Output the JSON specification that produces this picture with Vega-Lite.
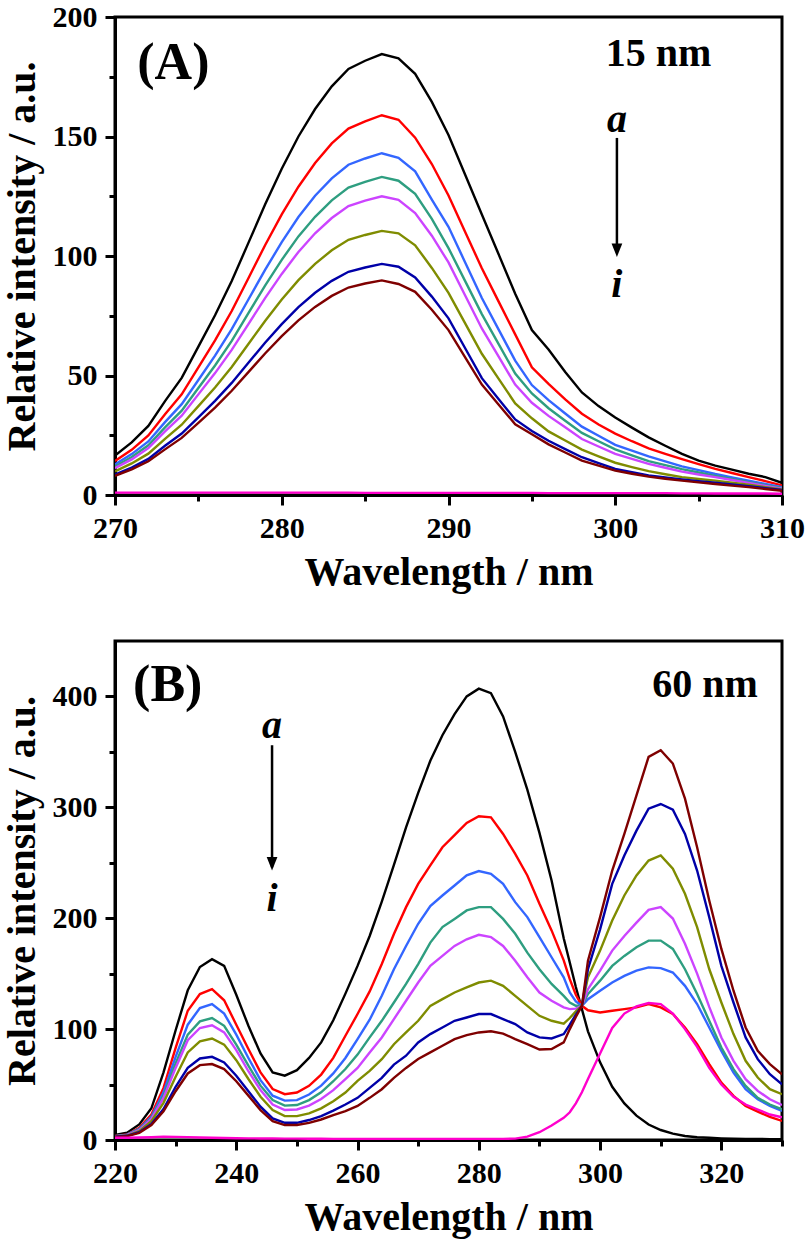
{
  "$schema": "https://vega.github.io/schema/vega-lite/v6.json",
  "background": "white",
  "padding": {"left": 0, "top": 0, "right": 0, "bottom": 0},
  "config": {
    "view": {"stroke": "black", "strokeWidth": 3},
    "axis": {
      "grid": false,
      "domainColor": "black", "domainWidth": 3,
      "tickColor": "black", "tickWidth": 3,
      "labelFont": "Liberation Serif", "labelFontWeight": "bold", "labelFontSize": 30, "labelColor": "black",
      "titleFont": "Liberation Serif", "titleFontWeight": "bold", "titleFontSize": 40, "titleColor": "black",
      "labelOverlap": false, "labelFlush": false
    }
  },
  "datasets": {
    "A": [
      {"nm":270,"a":16.5,"b":14.2,"c":12.8,"d":11.9,"e":11.2,"f":9.9,"g":8.6,"h":8.0,"i":1.0},
      {"nm":271,"a":22.0,"b":18.9,"c":17.1,"d":15.9,"e":14.9,"f":13.2,"g":11.5,"h":10.7,"i":1.0},
      {"nm":272,"a":28.9,"b":24.9,"c":22.4,"d":20.8,"e":19.6,"f":17.3,"g":15.1,"h":14.1,"i":1.0},
      {"nm":273,"a":39.3,"b":33.8,"c":30.5,"d":28.3,"e":26.6,"f":23.5,"g":20.6,"h":19.1,"i":1.0},
      {"nm":274,"a":49.0,"b":42.1,"c":38.0,"d":35.3,"e":33.2,"f":29.4,"g":25.7,"h":23.9,"i":1.0},
      {"nm":275,"a":62.1,"b":53.4,"c":48.1,"d":44.8,"e":42.1,"f":37.2,"g":32.5,"h":30.2,"i":1.0},
      {"nm":276,"a":75.2,"b":64.7,"c":58.3,"d":54.2,"e":51.0,"f":45.0,"g":39.4,"h":36.6,"i":1.0},
      {"nm":277,"a":89.5,"b":77.0,"c":69.4,"d":64.5,"e":60.7,"f":53.6,"g":46.9,"h":43.6,"i":1.0},
      {"nm":278,"a":105.5,"b":90.7,"c":81.8,"d":76.1,"e":71.5,"f":63.2,"g":55.3,"h":51.4,"i":1.0},
      {"nm":279,"a":121.5,"b":104.5,"c":94.2,"d":87.6,"e":82.4,"f":72.8,"g":63.7,"h":59.2,"i":1.0},
      {"nm":280,"a":136.5,"b":117.4,"c":105.8,"d":98.4,"e":92.5,"f":81.8,"g":71.5,"h":66.5,"i":1.0},
      {"nm":281,"a":150.0,"b":129.0,"c":116.3,"d":108.2,"e":101.7,"f":89.9,"g":78.6,"h":73.1,"i":1.0},
      {"nm":282,"a":161.5,"b":138.9,"c":125.2,"d":116.4,"e":109.5,"f":96.7,"g":84.6,"h":78.7,"i":1.0},
      {"nm":283,"a":171.0,"b":147.1,"c":132.5,"d":123.3,"e":115.9,"f":102.4,"g":89.6,"h":83.3,"i":1.0},
      {"nm":284,"a":178.3,"b":153.3,"c":138.2,"d":128.6,"e":120.9,"f":106.8,"g":93.4,"h":86.8,"i":1.0},
      {"nm":285,"a":181.7,"b":156.3,"c":140.8,"d":131.0,"e":123.2,"f":108.8,"g":95.2,"h":88.5,"i":0.9},
      {"nm":286,"a":184.5,"b":158.9,"c":143.0,"d":133.1,"e":125.0,"f":110.5,"g":96.7,"h":89.8,"i":0.9},
      {"nm":287,"a":182.7,"b":157.0,"c":141.1,"d":131.5,"e":123.5,"f":109.5,"g":95.5,"h":88.3,"i":0.9},
      {"nm":288,"a":176.2,"b":149.5,"c":135.4,"d":126.0,"e":118.0,"f":104.5,"g":91.0,"h":85.0,"i":0.9},
      {"nm":289,"a":164.5,"b":138.5,"c":123.6,"d":115.5,"e":108.5,"f":95.0,"g":83.0,"h":77.5,"i":0.9},
      {"nm":290,"a":150.6,"b":125.3,"c":112.2,"d":103.3,"e":97.3,"f":84.6,"g":73.9,"h":69.0,"i":0.9},
      {"nm":291,"a":134.0,"b":110.0,"c":97.3,"d":89.5,"e":83.5,"f":71.8,"g":61.4,"h":57.6,"i":0.9},
      {"nm":292,"a":117.4,"b":94.9,"c":82.4,"d":75.7,"e":69.7,"f":59.1,"g":48.9,"h":46.2,"i":0.9},
      {"nm":293,"a":100.8,"b":81.0,"c":69.3,"d":63.2,"e":58.0,"f":48.7,"g":40.2,"h":37.9,"i":0.9},
      {"nm":294,"a":84.2,"b":67.2,"c":56.2,"d":50.8,"e":46.2,"f":38.3,"g":31.6,"h":29.6,"i":0.9},
      {"nm":295,"a":69.0,"b":53.4,"c":46.0,"d":42.5,"e":38.6,"f":32.1,"g":26.8,"h":25.4,"i":0.9},
      {"nm":296,"a":60.9,"b":46.5,"c":39.7,"d":36.3,"e":33.1,"f":26.6,"g":22.7,"h":21.2,"i":0.8},
      {"nm":297,"a":51.5,"b":40.0,"c":34.1,"d":31.1,"e":28.3,"f":22.8,"g":19.2,"h":17.8,"i":0.8},
      {"nm":298,"a":42.9,"b":34.0,"c":28.6,"d":26.0,"e":23.4,"f":19.0,"g":15.8,"h":14.4,"i":0.8},
      {"nm":299,"a":37.2,"b":29.5,"c":24.8,"d":22.5,"e":20.3,"f":16.2,"g":13.3,"h":12.3,"i":0.8},
      {"nm":300,"a":32.4,"b":25.7,"c":21.0,"d":19.1,"e":17.2,"f":13.5,"g":10.9,"h":10.2,"i":0.8},
      {"nm":301,"a":28.2,"b":22.5,"c":18.6,"d":16.6,"e":15.1,"f":11.7,"g":9.5,"h":8.9,"i":0.8},
      {"nm":302,"a":24.1,"b":19.5,"c":16.2,"d":14.2,"e":13.0,"f":10.0,"g":8.2,"h":7.7,"i":0.8},
      {"nm":303,"a":20.6,"b":17.2,"c":14.1,"d":12.5,"e":11.4,"f":8.7,"g":7.3,"h":6.8,"i":0.8},
      {"nm":304,"a":17.2,"b":15.0,"c":12.0,"d":10.8,"e":9.8,"f":7.5,"g":6.5,"h":6.0,"i":0.7},
      {"nm":305,"a":14.4,"b":12.9,"c":10.4,"d":9.4,"e":8.6,"f":6.7,"g":5.8,"h":5.3,"i":0.7},
      {"nm":306,"a":12.3,"b":10.9,"c":8.8,"d":8.0,"e":7.5,"f":6.0,"g":5.1,"h":4.6,"i":0.6},
      {"nm":307,"a":10.6,"b":9.2,"c":7.4,"d":6.7,"e":6.3,"f":5.1,"g":4.4,"h":3.9,"i":0.6},
      {"nm":308,"a":8.9,"b":7.5,"c":6.0,"d":5.4,"e":5.1,"f":4.3,"g":3.7,"h":3.3,"i":0.6},
      {"nm":309,"a":7.5,"b":5.8,"c":4.6,"d":4.1,"e":3.8,"f":3.3,"g":2.9,"h":2.5,"i":0.6},
      {"nm":310,"a":5.1,"b":4.0,"c":3.3,"d":2.9,"e":2.6,"f":2.3,"g":2.1,"h":1.8,"i":0.5}
    ],
    "B": [
      {"nm":220,"a":4.5,"b":3.6,"c":3.5,"d":3.4,"e":3.3,"f":3.0,"g":3.0,"h":2.8,"i":2.0},
      {"nm":222,"a":6.6,"b":5.0,"c":4.8,"d":4.6,"e":4.4,"f":4.0,"g":3.8,"h":3.5,"i":2.0},
      {"nm":224,"a":14,"b":11,"c":10,"d":9.5,"e":9,"f":8,"g":7,"h":6.5,"i":2.2},
      {"nm":226,"a":28.6,"b":23,"c":21,"d":20,"e":19,"f":17,"g":14.5,"h":13.5,"i":2.5},
      {"nm":228,"a":61,"b":47,"c":43,"d":40,"e":38,"f":33.5,"g":28,"h":26,"i":3.0},
      {"nm":230,"a":99,"b":83,"c":75,"d":69,"e":65,"f":57,"g":48,"h":44,"i":2.8},
      {"nm":232,"a":135,"b":116.6,"c":104,"d":95,"e":90,"f":79,"g":65,"h":60,"i":2.6},
      {"nm":234,"a":156,"b":131.6,"c":119,"d":107,"e":101,"f":89,"g":73.5,"h":67.5,"i":2.3},
      {"nm":236,"a":163,"b":136,"c":122.6,"d":110,"e":103.5,"f":91.5,"g":75,"h":68.5,"i":2.0},
      {"nm":238,"a":157,"b":126,"c":114,"d":103,"e":97,"f":86,"g":70,"h":64,"i":1.8},
      {"nm":240,"a":131,"b":104,"c":95,"d":86,"e":81,"f":72,"g":58,"h":53,"i":1.6},
      {"nm":242,"a":103,"b":82,"c":74,"d":67,"e":62,"f":55,"g":44,"h":40,"i":1.5},
      {"nm":244,"a":78,"b":61,"c":54,"d":49,"e":45,"f":39,"g":30,"h":27,"i":1.4},
      {"nm":246,"a":61,"b":46,"c":40,"d":36,"e":32,"f":27,"g":19.5,"h":17,"i":1.3},
      {"nm":248,"a":58,"b":41.3,"c":35.5,"d":31,"e":27,"f":21.5,"g":15.5,"h":13.5,"i":1.2},
      {"nm":250,"a":63,"b":42.8,"c":36,"d":31.5,"e":27.5,"f":21.5,"g":15.5,"h":13.5,"i":1.2},
      {"nm":252,"a":74,"b":48.8,"c":41,"d":36,"e":31,"f":24,"g":18,"h":15.5,"i":1.1},
      {"nm":254,"a":88,"b":59,"c":49,"d":43,"e":37,"f":28.5,"g":21.5,"h":18.5,"i":1.1},
      {"nm":256,"a":108,"b":74,"c":60,"d":53,"e":45,"f":35,"g":26.5,"h":22.5,"i":1.0},
      {"nm":258,"a":132,"b":94,"c":74,"d":64,"e":55,"f":42.8,"g":32,"h":26,"i":1.0},
      {"nm":260,"a":157,"b":113.6,"c":91,"d":77,"e":65,"f":53.3,"g":38,"h":30.7,"i":1.0},
      {"nm":262,"a":184,"b":134,"c":108.5,"d":92.5,"e":79,"f":62.3,"g":47,"h":38,"i":1.0},
      {"nm":264,"a":215,"b":158.7,"c":130,"d":107.5,"e":92.5,"f":72.9,"g":56,"h":45.8,"i":1.0},
      {"nm":266,"a":248,"b":185.8,"c":154,"d":124,"e":109,"f":86.4,"g":68,"h":56,"i":1.0},
      {"nm":268,"a":282,"b":210,"c":175,"d":140.7,"e":125.6,"f":97,"g":76,"h":65,"i":1.0},
      {"nm":270,"a":313,"b":231,"c":195,"d":158.7,"e":142,"f":107.5,"g":88,"h":73,"i":1.0},
      {"nm":272,"a":342,"b":247.6,"c":211,"d":178,"e":157,"f":121,"g":95.5,"h":79,"i":1.0},
      {"nm":274,"a":365,"b":264,"c":220.5,"d":192,"e":166,"f":127,"g":101.5,"h":85,"i":1.0},
      {"nm":276,"a":384,"b":275,"c":229.5,"d":199.4,"e":175,"f":133,"g":107.5,"h":91,"i":1.0},
      {"nm":278,"a":400,"b":286,"c":238.6,"d":207,"e":181,"f":137.7,"g":110.5,"h":94.6,"i":1.0},
      {"nm":280,"a":407,"b":292,"c":242.5,"d":210,"e":185,"f":142,"g":113.6,"h":97,"i":1.0},
      {"nm":282,"a":403,"b":291,"c":240,"d":210,"e":183,"f":143.7,"g":113.6,"h":98,"i":1.0},
      {"nm":284,"a":382,"b":276,"c":231,"d":199.4,"e":175,"f":139,"g":109,"h":96,"i":1.0},
      {"nm":286,"a":350,"b":258,"c":214.5,"d":186,"e":161.7,"f":130,"g":104.5,"h":91,"i":1.2},
      {"nm":288,"a":316,"b":238.6,"c":201,"d":169,"e":146.7,"f":121,"g":97,"h":86.4,"i":3.0},
      {"nm":290,"a":277,"b":213,"c":183,"d":154,"e":133,"f":112,"g":92.5,"h":81.6,"i":7.0},
      {"nm":292,"a":234,"b":189,"c":164.8,"d":140.7,"e":125.6,"f":107.5,"g":91.6,"h":82,"i":13},
      {"nm":294,"a":182,"b":162,"c":146.7,"d":130,"e":119.6,"f":105,"g":95.5,"h":88,"i":20},
      {"nm":295,"a":160,"b":145,"c":133,"d":124,"e":118,"f":110,"g":104,"h":100,"i":25},
      {"nm":296,"a":138,"b":131,"c":125,"d":121,"e":118.5,"f":116,"g":113,"h":111,"i":33},
      {"nm":297,"a":118,"b":121,"c":121,"d":121,"e":121,"f":121,"g":121,"h":121,"i":43},
      {"nm":298,"a":98,"b":117,"c":127,"d":131.6,"e":136,"f":146.7,"g":154,"h":161.7,"i":55},
      {"nm":300,"a":70,"b":115,"c":134.6,"d":143.7,"e":152.7,"f":170.8,"g":190,"h":201,"i":78},
      {"nm":302,"a":48,"b":116.6,"c":142,"d":157,"e":170.8,"f":198,"g":231,"h":243,"i":101},
      {"nm":304,"a":33,"b":118,"c":148,"d":166,"e":184,"f":220.5,"g":256.6,"h":276,"i":114},
      {"nm":306,"a":22,"b":119.6,"c":152.7,"d":173.8,"e":196,"f":238.6,"g":279,"h":310.8,"i":120.5},
      {"nm":308,"a":14,"b":122.6,"c":155.7,"d":179.8,"e":207.5,"f":252,"g":298.8,"h":345.5,"i":123.5},
      {"nm":310,"a":9,"b":119.6,"c":155,"d":179.8,"e":210,"f":256.6,"g":303,"h":351.5,"i":122.6},
      {"nm":312,"a":5.7,"b":113.6,"c":151,"d":172.3,"e":199.7,"f":244.6,"g":297.9,"h":339.5,"i":114},
      {"nm":314,"a":3.6,"b":101.5,"c":139,"d":154,"e":177,"f":222,"g":276,"h":307.8,"i":100},
      {"nm":316,"a":2.5,"b":86.4,"c":122.6,"d":131.6,"e":150,"f":191.9,"g":243,"h":264,"i":84},
      {"nm":318,"a":2.0,"b":68.4,"c":101.5,"d":107.5,"e":120,"f":154.2,"g":201,"h":216,"i":65},
      {"nm":320,"a":1.5,"b":51.8,"c":80.4,"d":83.4,"e":92.5,"f":124,"g":157,"h":172.3,"i":50},
      {"nm":322,"a":1.2,"b":39.8,"c":60.8,"d":63.9,"e":71.4,"f":95.5,"g":124,"h":134.6,"i":39},
      {"nm":324,"a":1.0,"b":30.7,"c":45.8,"d":48.8,"e":54.8,"f":71.4,"g":92.5,"h":101.5,"i":32},
      {"nm":326,"a":0.9,"b":25.6,"c":36.7,"d":38,"e":44.3,"f":56.3,"g":72.9,"h":80.4,"i":27.5},
      {"nm":328,"a":0.8,"b":20.8,"c":30.7,"d":32,"e":36.7,"f":45.8,"g":59.3,"h":68.4,"i":23},
      {"nm":330,"a":0.7,"b":17.2,"c":26.2,"d":27.7,"e":31.6,"f":41.3,"g":50.3,"h":59.3,"i":20.5}
    ],
    "A_panel": [{"nm": 273.5, "value": 174, "label": "(A)"}],
    "A_nm": [{"nm": 302.6, "value": 179.7, "label": "15 nm"}],
    "A_letters": [{"nm": 300.1, "value": 151.9, "label": "a"}, {"nm": 300.1, "value": 83, "label": "i"}],
    "A_arrow": [{"nm": 300.1, "value": 149.4, "value2": 102}],
    "A_head": [{"nm": 300.1, "value": 99.6}],
    "B_panel": [{"nm": 228.7, "value": 395.8, "label": "(B)"}],
    "B_nm": [{"nm": 317.3, "value": 399.4, "label": "60 nm"}],
    "B_letters": [{"nm": 245.9, "value": 362.3, "label": "a"}, {"nm": 245.9, "value": 206.9, "label": "i"}],
    "B_arrow": [{"nm": 245.9, "value": 356, "value2": 246}],
    "B_head": [{"nm": 245.9, "value": 243.1}]
  },
  "bounds": "flush",
  "spacing": 146,
  "vconcat": [
    {
      "width": 667,
      "height": 478,
      "layer": [
        {
          "data": {"name": "A"},
          "transform": [{"fold": ["a","b","c","d","e","f","g","h","i"], "as": ["curve","value"]}],
          "mark": {"type": "line", "strokeWidth": 2.4, "clip": true},
          "encoding": {
            "x": {"field": "nm", "type": "quantitative",
              "scale": {"domain": [270, 310], "nice": false, "zero": false},
              "axis": {"title": "Wavelength / nm", "values": [270,275,280,285,290,295,300,305,310],
                "labelExpr": "datum.value % 10 === 0 ? datum.label : ''",
                "tickSize": {"condition": {"test": "datum.value % 10 === 0", "value": 10}, "value": 6},
                "labelPadding": 8, "titlePadding": 9}},
            "y": {"field": "value", "type": "quantitative",
              "scale": {"domain": [0, 200], "nice": false},
              "axis": {"title": "Relative intensity / a.u.", "values": [0,25,50,75,100,125,150,175,200],
                "labelExpr": "datum.value % 50 === 0 ? datum.label : ''",
                "tickSize": {"condition": {"test": "datum.value % 50 === 0", "value": 10}, "value": 6},
                "labelPadding": 8, "titlePadding": 10}},
            "color": {"field": "curve", "type": "nominal", "legend": null,
              "scale": {"domain": ["a","b","c","d","e","f","g","h","i"],
                "range": ["#000000","#FF0000","#3366FF","#2E9E80","#CC44FF","#7F8C00","#0000A8","#7F0000","#FF00CC"]}}
          }
        },
        {
          "data": {"name": "A_panel"},
          "mark": {"type": "text", "font": "Liberation Serif", "fontWeight": "bold", "fontSize": 52, "align": "center", "baseline": "alphabetic", "color": "black"},
          "encoding": {"x": {"field": "nm", "type": "quantitative"}, "y": {"field": "value", "type": "quantitative"}, "text": {"field": "label"}}
        },
        {
          "data": {"name": "A_nm"},
          "mark": {"type": "text", "font": "Liberation Serif", "fontWeight": "bold", "fontSize": 40, "align": "center", "baseline": "alphabetic", "color": "black"},
          "encoding": {"x": {"field": "nm", "type": "quantitative"}, "y": {"field": "value", "type": "quantitative"}, "text": {"field": "label"}}
        },
        {
          "data": {"name": "A_letters"},
          "mark": {"type": "text", "font": "Liberation Serif", "fontWeight": "bold", "fontStyle": "italic", "fontSize": 40, "align": "center", "baseline": "alphabetic", "color": "black"},
          "encoding": {"x": {"field": "nm", "type": "quantitative"}, "y": {"field": "value", "type": "quantitative"}, "text": {"field": "label"}}
        },
        {
          "data": {"name": "A_arrow"},
          "mark": {"type": "rule", "strokeWidth": 2.5, "color": "black"},
          "encoding": {"x": {"field": "nm", "type": "quantitative"}, "y": {"field": "value", "type": "quantitative"}, "y2": {"field": "value2"}}
        },
        {
          "data": {"name": "A_head"},
          "mark": {"type": "point", "shape": "M-0.8,-2L0.8,-2L0,0Z", "filled": true, "size": 180, "color": "black", "opacity": 1, "strokeWidth": 0},
          "encoding": {"x": {"field": "nm", "type": "quantitative"}, "y": {"field": "value", "type": "quantitative"}}
        }
      ]
    },
    {
      "width": 667,
      "height": 499,
      "layer": [
        {
          "data": {"name": "B"},
          "transform": [{"fold": ["a","b","c","d","e","f","g","h","i"], "as": ["curve","value"]}],
          "mark": {"type": "line", "strokeWidth": 2.4, "clip": true},
          "encoding": {
            "x": {"field": "nm", "type": "quantitative",
              "scale": {"domain": [220, 330], "nice": false, "zero": false},
              "axis": {"title": "Wavelength / nm", "values": [220,230,240,250,260,270,280,290,300,310,320,330],
                "labelExpr": "datum.value % 20 === 0 ? datum.label : ''",
                "tickSize": {"condition": {"test": "datum.value % 20 === 0", "value": 10}, "value": 6},
                "labelPadding": 8, "titlePadding": 9}},
            "y": {"field": "value", "type": "quantitative",
              "scale": {"domain": [0, 450], "nice": false},
              "axis": {"title": "Relative intensity / a.u.", "values": [0,50,100,150,200,250,300,350,400],
                "labelExpr": "datum.value % 100 === 0 ? datum.label : ''",
                "tickSize": {"condition": {"test": "datum.value % 100 === 0", "value": 10}, "value": 6},
                "labelPadding": 8, "titlePadding": 10}},
            "color": {"field": "curve", "type": "nominal", "legend": null,
              "scale": {"domain": ["a","b","c","d","e","f","g","h","i"],
                "range": ["#000000","#FF0000","#3366FF","#2E9E80","#CC44FF","#7F8C00","#0000A8","#7F0000","#FF00CC"]}}
          }
        },
        {
          "data": {"name": "B_panel"},
          "mark": {"type": "text", "font": "Liberation Serif", "fontWeight": "bold", "fontSize": 52, "align": "center", "baseline": "alphabetic", "color": "black"},
          "encoding": {"x": {"field": "nm", "type": "quantitative"}, "y": {"field": "value", "type": "quantitative"}, "text": {"field": "label"}}
        },
        {
          "data": {"name": "B_nm"},
          "mark": {"type": "text", "font": "Liberation Serif", "fontWeight": "bold", "fontSize": 40, "align": "center", "baseline": "alphabetic", "color": "black"},
          "encoding": {"x": {"field": "nm", "type": "quantitative"}, "y": {"field": "value", "type": "quantitative"}, "text": {"field": "label"}}
        },
        {
          "data": {"name": "B_letters"},
          "mark": {"type": "text", "font": "Liberation Serif", "fontWeight": "bold", "fontStyle": "italic", "fontSize": 40, "align": "center", "baseline": "alphabetic", "color": "black"},
          "encoding": {"x": {"field": "nm", "type": "quantitative"}, "y": {"field": "value", "type": "quantitative"}, "text": {"field": "label"}}
        },
        {
          "data": {"name": "B_arrow"},
          "mark": {"type": "rule", "strokeWidth": 2.5, "color": "black"},
          "encoding": {"x": {"field": "nm", "type": "quantitative"}, "y": {"field": "value", "type": "quantitative"}, "y2": {"field": "value2"}}
        },
        {
          "data": {"name": "B_head"},
          "mark": {"type": "point", "shape": "M-0.8,-2L0.8,-2L0,0Z", "filled": true, "size": 180, "color": "black", "opacity": 1, "strokeWidth": 0},
          "encoding": {"x": {"field": "nm", "type": "quantitative"}, "y": {"field": "value", "type": "quantitative"}}
        }
      ]
    }
  ]
}
